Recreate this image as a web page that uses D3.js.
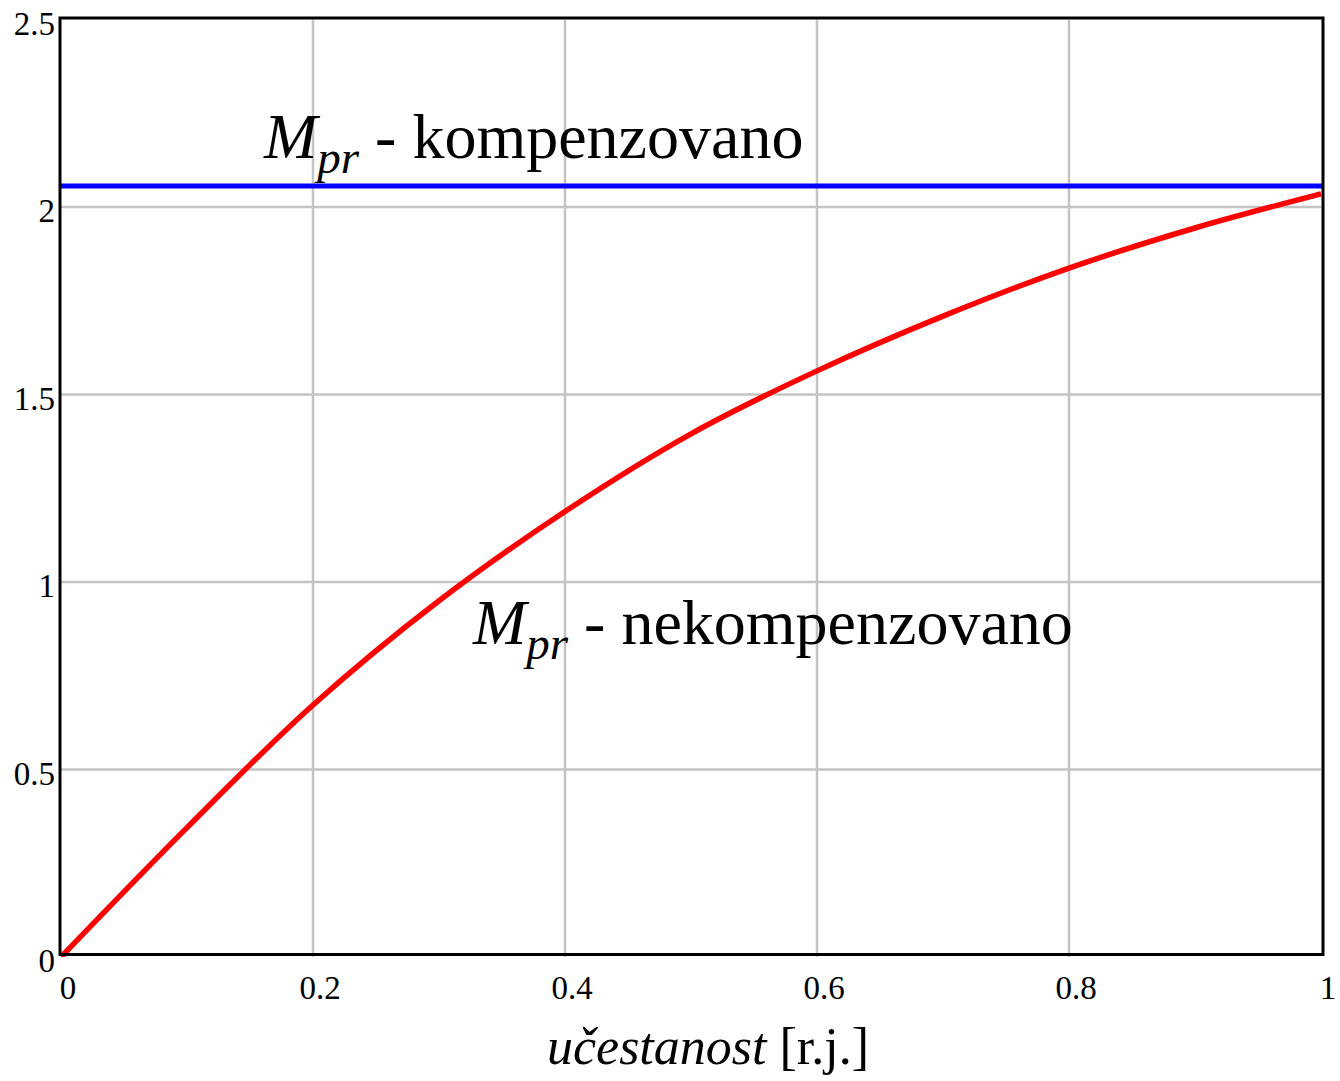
<!DOCTYPE html>
<html>
<head>
<meta charset="utf-8">
<script src="https://cdn.jsdelivr.net/npm/d3@7"></script>
<style>
  html, body { margin: 0; padding: 0; background: #fff; }
  svg { display: block; }
  text { font-family: "Liberation Serif", "Times New Roman", serif; fill: #000; }
</style>
</head>
<body>
<svg id="chart" width="1340" height="1081"></svg>
<script>
// Frequency (per unit) and mechanical torque curves
const freq = [0, 0.1, 0.2, 0.3, 0.4, 0.5, 0.6, 0.7, 0.8, 0.9, 1.0];
const mprUncompensated = [0, 0.345, 0.672, 0.950, 1.188, 1.395, 1.563, 1.709, 1.837, 1.944, 2.035];
const mprCompensated = 2.056;

const xTicks = [0, 0.2, 0.4, 0.6, 0.8, 1];
const yTicks = [0, 0.5, 1, 1.5, 2, 2.5];

const svg = d3.select("#chart");
const plotL = 61, plotR = 1321, plotT = 19.5, plotB = 957;

const x = d3.scaleLinear().domain([0, 1]).range([plotL, plotR]);
const y = d3.scaleLinear().domain([0, 2.5]).range([plotB, plotT]);

// grid
const grid = svg.append("g").attr("stroke", "#c4c4c4").attr("stroke-width", 2.5);
grid.selectAll(".gx").data(xTicks.slice(1, -1)).join("line")
  .attr("x1", d => x(d)).attr("x2", d => x(d))
  .attr("y1", plotT).attr("y2", plotB);
grid.selectAll(".gy").data(yTicks.slice(1, -1)).join("line")
  .attr("x1", plotL).attr("x2", plotR)
  .attr("y1", d => y(d)).attr("y2", d => y(d));

// tick labels
svg.append("g").selectAll("text").data(yTicks).join("text")
  .attr("x", 55).attr("y", d => y(d) + 15)
  .attr("text-anchor", "end").attr("font-size", 33)
  .text(d => d3.format("")(d));
svg.append("g").selectAll("text").data(xTicks).join("text")
  .attr("x", d => x(d) + 7).attr("y", 999)
  .attr("text-anchor", "middle").attr("font-size", 33)
  .text(d => d3.format("")(d));

// curves
svg.append("clipPath").attr("id", "plotclip")
  .append("rect").attr("x", plotL).attr("y", plotT).attr("width", plotR - plotL + 2).attr("height", plotB - plotT);

svg.append("line")
  .attr("x1", x(0)).attr("x2", plotR + 2)
  .attr("y1", y(mprCompensated)).attr("y2", y(mprCompensated))
  .attr("stroke", "#0000ff").attr("stroke-width", 5);

const line = d3.line().x((d, i) => x(freq[i])).y(d => y(d)).curve(d3.curveCatmullRom.alpha(0.5));
svg.append("path").datum(mprUncompensated)
  .attr("d", line)
  .attr("fill", "none").attr("stroke", "#ff0000").attr("stroke-width", 5.5)
  .attr("clip-path", "url(#plotclip)");

// frame
svg.append("rect")
  .attr("x", plotL - 1).attr("y", plotT - 1.5).attr("width", plotR - plotL + 3).attr("height", plotB - plotT - 1)
  .attr("fill", "none").attr("stroke", "#000").attr("stroke-width", 3);

// annotations
function label(xp, yp, rest) {
  const t = svg.append("text").attr("x", xp).attr("y", yp).attr("font-size", 64);
  t.append("tspan").attr("font-style", "italic").text("M");
  t.append("tspan").attr("font-style", "italic").attr("font-size", 47).attr("dy", 15).text("pr");
  t.append("tspan").attr("dy", -15).text(" - " + rest);
}
label(264, 158, "kompenzovano");
label(473, 644, "nekompenzovano");

// axis title
const at = svg.append("text").attr("x", 708).attr("y", 1064)
  .attr("text-anchor", "middle").attr("font-size", 52);
at.append("tspan").attr("font-style", "italic").text("učestanost");
at.append("tspan").text(" [r.j.]");
</script>
</body>
</html>
